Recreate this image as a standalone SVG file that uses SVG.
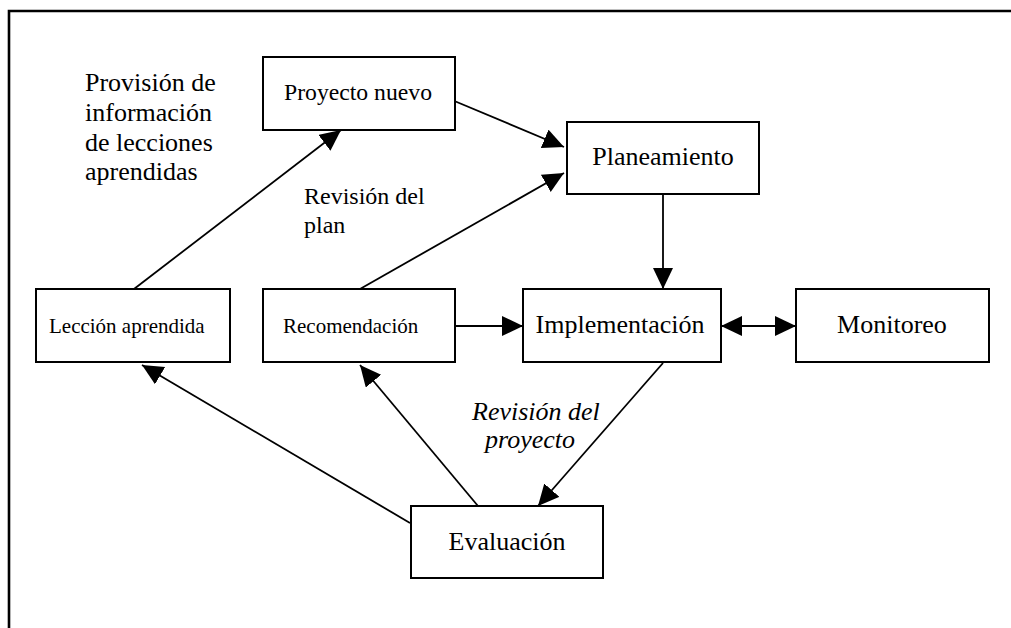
<svg xmlns="http://www.w3.org/2000/svg" width="1011" height="628" viewBox="0 0 1011 628">
<style>
.box{fill:#fff;stroke:#000;stroke-width:2}
.t{font-family:'Liberation Serif','Times New Roman','DejaVu Serif',serif;fill:#000}
.big{font-size:26px}
.sm{font-size:21px}
.md{font-size:24px}
.con line{stroke:#000;stroke-width:1.8;fill:none}
</style>
<defs>
<marker id="ah" markerUnits="userSpaceOnUse" markerWidth="24" markerHeight="22" refX="21" refY="10" orient="auto-start-reverse">
<path d="M0,0 L21,10 L0,20 z" fill="#000"/>
</marker>
</defs>
<rect width="1011" height="628" fill="#fff"/>
<g id="frame">
<path d="M9,628 L9,11 L1011,11" fill="none" stroke="#000" stroke-width="2.6"/>
</g>
<g class="con" id="connectors">
<line x1="452" y1="100" x2="564" y2="147" marker-end="url(#ah)"/>
<line x1="360" y1="289" x2="564" y2="173" marker-end="url(#ah)"/>
<line x1="134" y1="289" x2="341" y2="130" marker-end="url(#ah)"/>
<line x1="663" y1="194" x2="663" y2="289" marker-end="url(#ah)"/>
<line x1="455" y1="326" x2="523" y2="326" marker-end="url(#ah)"/>
<line x1="721" y1="326" x2="796" y2="326" marker-start="url(#ah)" marker-end="url(#ah)"/>
<line x1="663" y1="363" x2="538" y2="506" marker-end="url(#ah)"/>
<line x1="478" y1="506" x2="360" y2="365" marker-end="url(#ah)"/>
<line x1="410" y1="523" x2="142" y2="365" marker-end="url(#ah)"/>
</g>
<g id="proyecto-nuevo">
<rect class="box" x="263" y="57" width="192" height="73"/>
<text class="t" font-family="Liberation Serif, serif" x="284" y="100" style="font-size:23.7px">Proyecto nuevo</text>
</g>
<g id="planeamiento">
<rect class="box" x="567" y="122" width="192" height="72"/>
<text class="t big" x="663" y="165" text-anchor="middle">Planeamiento</text>
</g>
<g id="leccion">
<rect class="box" x="36" y="289" width="194" height="73"/>
<text class="t sm" x="49" y="333">Lección aprendida</text>
</g>
<g id="recomendacion">
<rect class="box" x="263" y="289" width="192" height="73"/>
<text class="t sm" x="283" y="333">Recomendación</text>
</g>
<g id="implementacion">
<rect class="box" x="523" y="289" width="198" height="73"/>
<text class="t big" x="620" y="333" text-anchor="middle">Implementación</text>
</g>
<g id="monitoreo">
<rect class="box" x="796" y="289" width="193" height="73"/>
<text class="t big" x="892" y="333" text-anchor="middle">Monitoreo</text>
</g>
<g id="evaluacion">
<rect class="box" x="411" y="506" width="192" height="72"/>
<text class="t big" x="507" y="550" text-anchor="middle">Evaluación</text>
</g>
<g id="labels">
<text class="t big"><tspan x="85" y="91">Provisión de</tspan><tspan x="85" y="121">información</tspan><tspan x="85" y="151">de lecciones</tspan><tspan x="85" y="180">aprendidas</tspan></text>
<text class="t md"><tspan x="304" y="204">Revisión del</tspan><tspan x="304" y="233">plan</tspan></text>
<text class="t big" font-style="italic"><tspan x="472" y="420">Revisión del</tspan><tspan x="485" y="448">proyecto</tspan></text>
</g>
</svg>
